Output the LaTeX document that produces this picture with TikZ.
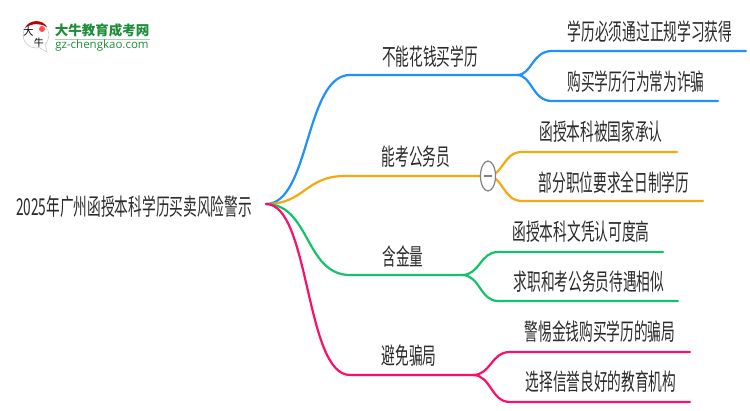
\documentclass[tikz,border=0pt]{standalone}
\usetikzlibrary{shapes.geometric}
\usepackage{fontspec}
\setmainfont{Noto Sans CJK SC}
\newfontfamily\latinf{Open Sans}
\definecolor{cblue}{HTML}{1E90FF}
\definecolor{corange}{HTML}{F5A80F}
\definecolor{cgreen}{HTML}{14C26B}
\definecolor{cpink}{HTML}{FA0F6E}
\definecolor{ctext}{HTML}{2B2B2B}
\definecolor{clogo}{HTML}{1E8C3A}
\newcommand{\tallT}[1]{\scalebox{1}[1.7]{#1}}
\tikzset{
  lab/.style={inner sep=0pt,text=ctext,anchor=center,font=\fontsize{13.7}{14}\selectfont},
  conn/.style={line width=2.2pt,line cap=round},
}
\begin{document}
\begin{tikzpicture}[x=1pt,y=-1pt]
\useasboundingbox (0,0) rectangle (750,410);
\fill[white] (0,0) rectangle (750,410);
% labels
\node[lab] (root) at (134,207) {\tallT{2025年广州函授本科学历买卖风险警示}};
\node[lab] (b1) at (430,57) {\tallT{不能花钱买学历}};
\node[lab] (b2) at (416,157) {\tallT{能考公务员}};
\node[lab] (b3) at (403,257) {\tallT{含金量}};
\node[lab] (b4) at (409,356) {\tallT{避免骗局}};
\node[lab] (l1) at (650,32) {\tallT{学历必须通过正规学习获得}};
\node[lab] (l2) at (636,82) {\tallT{购买学历行为常为诈骗}};
\node[lab] (l3) at (601,132) {\tallT{函授本科被国家承认}};
\node[lab] (l4) at (614,183) {\tallT{部分职位要求全日制学历}};
\node[lab] (l5) at (581,232) {\tallT{函授本科文凭认可度高}};
\node[lab] (l6) at (589,282) {\tallT{求职和考公务员待遇相似}};
\node[lab] (l7) at (600,332) {\tallT{警惕金钱购买学历的骗局}};
\node[lab] (l8) at (601,382) {\tallT{选择信誉良好的教育机构}};
% coordinates
\coordinate (o) at (266,204);
\coordinate (b1e) at (517,75);
\coordinate (b2e) at (488,176);
\coordinate (b3e) at (462,275);
\coordinate (b4e) at (473,375);
\coordinate (b1s) at (350,75);
\coordinate (b2s) at (345,176);
\coordinate (b3s) at (350,275);
\coordinate (b4s) at (350,375);
\draw[conn,cblue] (o) .. controls (310,204) and (305,75) .. (b1s) -- (b1e);
\draw[conn,corange] (o) .. controls (305,204) and (305,176) .. (b2s) -- (b2e);
\draw[conn,cgreen] (o) .. controls (310,204) and (305,275) .. (b3s) -- (b3e);
\draw[conn,cpink] (o) .. controls (310,204) and (305,375) .. (b4s) -- (b4e);
\coordinate (l1e) at (746,51); \coordinate (l2e) at (718,101);
\coordinate (l3e) at (677,152); \coordinate (l4e) at (703,201);
\coordinate (l5e) at (663,252); \coordinate (l6e) at (678,301);
\coordinate (l7e) at (690,352); \coordinate (l8e) at (690,402);
\draw[conn,cblue] (b1e) .. controls (532,75) and (532,51) .. (552,51) -- (l1e);
\draw[conn,cblue] (b1e) .. controls (532,75) and (532,101) .. (552,101) -- (l2e);
\draw[conn,corange] (b2e) .. controls (503,176) and (503,152) .. (522,152) -- (l3e);
\draw[conn,corange] (b2e) .. controls (503,176) and (503,201) .. (522,201) -- (l4e);
\draw[conn,cgreen] (b3e) .. controls (480,275) and (480,252) .. (498,252) -- (l5e);
\draw[conn,cgreen] (b3e) .. controls (480,275) and (480,301) .. (498,301) -- (l6e);
\draw[conn,cpink] (b4e) .. controls (491,375) and (491,352) .. (510,352) -- (l7e);
\draw[conn,cpink] (b4e) .. controls (491,375) and (491,402) .. (510,402) -- (l8e);
% collapse button
\node[draw=gray,line width=1.2pt,fill=white,ellipse,minimum width=15pt,minimum height=30pt,inner sep=0pt] (btn) at (488,176) {};
\draw[gray,line width=1.6pt] ([xshift=-4pt]btn.center) -- ([xshift=4pt]btn.center);
% logo
\fill[white,draw=gray!40,line width=.6pt] (36,35) circle (13) ;
\draw[gray!40,line width=.6pt,fill=white] (38,47) -- (47,52) -- (45,44);
\fill[red!75!black] (25,28) .. controls (29,19) and (43,19) .. (47,27) .. controls (40,23) and (32,23) .. (25,28) -- cycle;
\fill[red!70!white] (42,29) circle (3);
\node[inner sep=0pt,font=\fontsize{10.5}{10.5}\selectfont] (lg1) at (28.5,32) {大};
\node[inner sep=0pt,font=\fontsize{10}{10}\selectfont] (lg2) at (39,42.5) {牛};
\node[inner sep=0pt,text=clogo,font=\bfseries\fontsize{13.5}{13.5}\selectfont] (lg3) at (102,30) {大牛教育成考网};
\draw[clogo!40,line width=.5pt] (55,39) -- (150,39);
\node[inner sep=0pt,text=clogo,font=\latinf\fontsize{11.5}{11.5}\selectfont] (lg4) at (102,46) {gz-chengkao.com};
\end{tikzpicture}
\end{document}
